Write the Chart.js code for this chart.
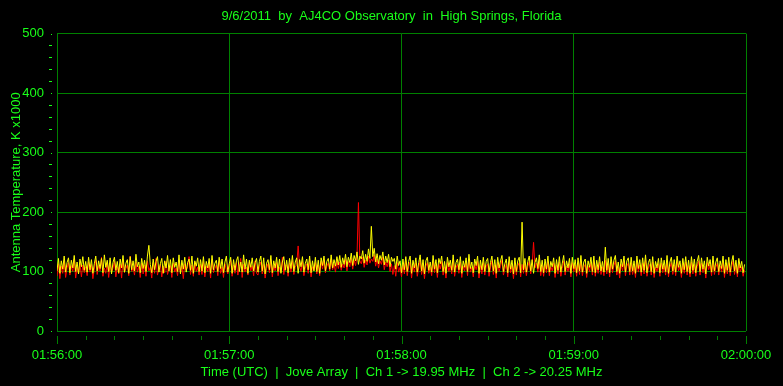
<!DOCTYPE html>
<html>
<head>
<meta charset="utf-8">
<script src="https://cdn.jsdelivr.net/npm/chart.js@4/dist/chart.umd.min.js"></script>
<style>
  html, body { margin: 0; padding: 0; background: #000; }
  canvas { display: block; background: #000; }
</style>
</head>
<body>
<canvas id="jove" width="783" height="386"></canvas>
<script>
// 01:56:00 -> 02:00:00 UTC, samples every half second
const sampleStep = 0.5;
const xTicks = ['01:56:00', '01:57:00', '01:58:00', '01:59:00', '02:00:00'];
const yTicks = [0, 100, 200, 300, 400, 500];

// Ch 2 (20.25 MHz) - yellow
const ch2 = [
  101,122,97,118,104,126,99,115,123,98,119,106,127,100,116,96,121,108,125,102,
  117,99,124,103,120,97,113,126,101,118,105,122,98,128,107,119,100,123,96,115,
  124,102,117,98,121,106,127,99,114,120,97,125,103,118,101,129,108,116,98,122,
  105,119,100,126,144,112,98,121,103,117,125,99,113,122,97,118,106,127,101,120,
  98,123,107,116,100,128,96,119,104,124,99,115,121,102,126,97,118,109,123,100,
  120,101,125,98,117,106,122,97,127,103,114,119,100,124,105,121,98,116,126,99,
  113,124,97,120,102,118,125,100,116,99,128,104,121,97,119,107,123,101,115,122,
  99,117,126,101,123,96,114,120,103,127,98,118,106,124,100,121,97,116,125,102,
  119,98,122,105,127,100,116,123,97,120,108,125,99,114,121,103,126,98,118,101,
  124,100,119,97,123,110,126,101,117,122,104,128,106,120,109,125,111,127,107,123,
  112,129,108,124,115,131,110,127,118,133,112,126,121,135,114,129,117,138,122,176,
  125,139,116,130,113,127,119,133,111,126,115,129,108,124,117,122,104,126,110,118,
  98,121,103,125,100,117,126,97,119,106,123,99,115,128,101,120,96,118,124,102,
  116,99,127,104,120,98,122,113,126,100,117,97,124,108,119,102,128,99,115,121,
  103,125,97,118,107,123,100,129,105,116,98,121,110,126,97,119,103,124,100,117,
  122,99,115,126,101,120,97,124,106,118,127,100,113,121,98,125,104,119,96,123,
  100,118,124,98,183,103,122,99,117,126,101,120,97,115,123,105,128,100,119,98,
  121,104,126,99,117,108,123,97,120,102,125,99,114,127,100,118,106,122,97,124,
  105,120,98,123,101,127,99,116,121,97,118,107,124,100,126,98,119,103,125,101,
  117,99,141,102,122,98,125,104,119,127,100,116,97,121,108,126,99,118,123,100,
  124,101,118,97,126,105,120,99,123,102,128,98,115,121,100,125,97,117,106,122,
  98,123,104,119,100,127,97,116,124,101,120,99,126,107,118,97,122,103,125,100,
  119,97,125,102,121,98,117,127,100,123,104,118,96,124,109,120,99,126,101,116,
  123,100,118,105,126,97,120,102,124,99,116,127,101,119,97,122,106,117,98,112
];

// Ch 1 (19.95 MHz) - red
const ch1 = [
  92,113,88,109,97,118,90,106,115,94,110,100,121,89,107,96,114,91,111,98,
  108,93,116,99,112,88,104,119,95,110,101,124,92,106,97,115,90,112,99,105,
  117,91,108,96,113,89,120,98,105,111,93,126,100,107,94,116,99,109,90,114,
  96,111,92,118,101,107,89,115,97,122,94,106,112,91,109,98,117,95,104,110,
  90,114,99,106,93,119,97,110,88,113,102,108,125,95,111,92,116,100,107,94,
  112,95,117,91,109,100,114,89,120,98,105,111,93,118,97,108,90,113,103,96,
  106,119,92,111,97,115,94,108,122,90,112,99,107,94,116,101,110,93,118,97,
  94,109,116,96,112,89,105,113,98,120,91,110,101,115,93,107,99,124,95,111,
  110,92,114,99,118,95,107,112,143,109,100,117,93,106,113,97,119,91,108,102,
  115,96,111,93,117,104,120,98,109,114,101,121,103,112,99,118,105,116,102,113,
  106,120,101,117,108,122,104,119,110,125,216,118,113,124,107,119,111,126,114,121,
  117,128,109,121,106,118,112,124,103,116,108,119,100,113,95,110,92,115,99,107,
  91,112,96,117,93,108,116,89,110,99,114,92,106,119,95,111,88,109,115,97,
  107,93,118,98,111,90,113,104,117,94,108,89,115,100,110,96,120,92,106,112,
  97,116,90,109,101,114,93,121,99,107,91,112,103,117,89,110,96,115,94,108,
  113,92,106,118,95,111,89,116,100,109,119,94,104,112,91,117,98,110,88,114,
  94,109,115,91,112,97,113,93,108,117,96,111,149,106,114,99,120,93,110,92,
  112,98,117,93,108,101,114,90,111,96,116,92,105,118,94,109,100,113,91,115,
  99,111,92,114,95,118,93,107,112,90,109,100,115,94,117,92,110,97,116,95,
  108,93,119,96,113,91,116,98,110,118,94,107,89,112,101,117,93,109,114,94,
  115,95,109,90,117,99,111,93,114,96,119,92,106,112,94,116,90,108,100,113,
  92,114,98,110,94,118,91,107,115,95,111,93,117,101,109,90,113,97,116,94,
  110,91,116,96,112,92,108,118,94,114,98,109,89,115,103,111,93,117,95,107,
  114,94,109,99,117,90,111,96,115,93,107,118,95,110,91,113,100,108,92,103
];

const TEXT = '#19ff19';
const GRID = '#008000';
const FONT = "'Liberation Sans Narrow', 'Liberation Sans', Arial, sans-serif";

const toPoints = arr => arr.map((v, i) => ({ x: i * sampleStep, y: v }));

// small tick marks outside the plot, like the original software draws them
const tickMarks = {
  id: 'tickMarks',
  afterDraw(chart) {
    const { ctx, chartArea, scales: { x, y } } = chart;
    ctx.save();
    ctx.fillStyle = GRID;
    for (let s = 0; s <= 240; s += 10) {
      const px = Math.round(x.getPixelForValue(s));
      ctx.fillRect(px, chartArea.bottom + 5, 1, s % 60 === 0 ? 8 : 4);
    }
    ctx.fillStyle = TEXT;
    for (let v = 0; v <= 500; v += 20) {
      const py = Math.round(y.getPixelForValue(v));
      if (v % 100 === 0) ctx.fillRect(chartArea.left - 6, py, 1, 1);
      else ctx.fillRect(chartArea.left - 8, py, 3, 1);
    }
    ctx.restore();
  }
};

new Chart(document.getElementById('jove').getContext('2d'), {
  type: 'line',
  data: {
    datasets: [
      { label: 'Ch 2', data: toPoints(ch2), borderColor: '#ffff00', borderWidth: 1, pointRadius: 0, tension: 0 },
      { label: 'Ch 1', data: toPoints(ch1), borderColor: '#ff0000', borderWidth: 1, pointRadius: 0, tension: 0 }
    ]
  },
  options: {
    responsive: false,
    animation: false,
    events: [],
    layout: { padding: 0 },
    plugins: {
      legend: { display: false },
      tooltip: { enabled: false },
      title: {
        display: true,
        text: '9/6/2011  by  AJ4CO Observatory  in  High Springs, Florida',
        color: TEXT,
        font: { family: FONT, size: 13, weight: 'normal' },
        padding: { top: 9, bottom: 9 }
      }
    },
    scales: {
      x: {
        type: 'linear',
        min: 0,
        max: 240,
        border: { display: false },
        grid: {
          drawTicks: false,
          color: c => (c.tick.value % 60 === 0 ? GRID : 'rgba(0,0,0,0)')
        },
        ticks: {
          stepSize: 10,
          autoSkip: false,
          maxRotation: 0,
          padding: 17,
          color: TEXT,
          font: { family: FONT, size: 13 },
          callback: v => (v % 60 === 0 ? xTicks[v / 60] : '')
        },
        title: {
          display: true,
          text: 'Time (UTC)  |  Jove Array  |  Ch 1 -> 19.95 MHz  |  Ch 2 -> 20.25 MHz',
          color: TEXT,
          font: { family: FONT, size: 13 },
          padding: { top: 0, bottom: 6 }
        },
        afterFit: s => {
          s.height = 55;
          s.paddingLeft = 0;
          s.paddingRight = 37;
        }
      },
      y: {
        min: 0,
        max: 500,
        border: { display: false },
        grid: {
          drawTicks: false,
          color: c => (c.tick.value % 100 === 0 ? GRID : 'rgba(0,0,0,0)')
        },
        ticks: {
          stepSize: 20,
          autoSkip: false,
          padding: 13,
          color: TEXT,
          font: { family: FONT, size: 13 },
          callback: v => (yTicks.includes(v) ? String(v) : '')
        },
        title: {
          display: true,
          text: 'Antenna Temperature, K x1000',
          color: TEXT,
          font: { family: FONT, size: 13 },
          padding: { top: 9, bottom: 0 }
        },
        afterFit: s => { s.width = 57; }
      }
    }
  },
  plugins: [tickMarks]
});
</script>
</body>
</html>
